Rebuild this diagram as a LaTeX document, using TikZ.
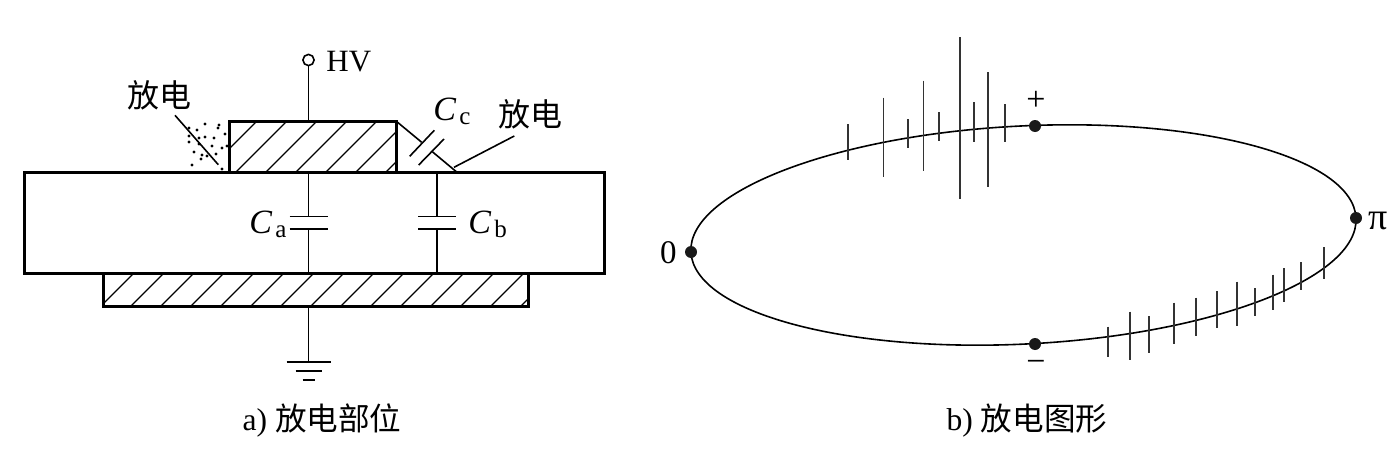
\documentclass[tikz,border=0pt]{standalone}
\usepackage{fontspec}
\setmainfont{Liberation Serif}
\newfontfamily\cjk{Noto Sans CJK SC}
\newcommand{\capsub}[2]{{\fontsize{17}{17}\selectfont\itshape #1}\,\raisebox{-2pt}{\fontsize{12.5}{13}\selectfont #2}}
\tikzset{
  wire/.style={line width=.8pt},
  slab/.style={line width=1.5pt},
  hatch/.style={line width=.6pt},
  pulse/.style={line width=.8pt,black!80},
  lbl/.style={inner sep=0pt,font=\fontsize{15.5}{16}\selectfont},
  hanzi/.style={inner sep=0pt,font=\cjk\fontsize{16}{16}\selectfont},
  dot/.style={circle,fill=black!90,inner sep=0pt,minimum size=6pt},
}
\begin{document}
\begin{tikzpicture}[x=.5pt,y=-.5pt]
  \useasboundingbox (0,0) rectangle (1398,455);
  % a) slab and electrodes
  \coordinate (slabNW) at (24,172);
  \coordinate (slabSE) at (604,273);
  \coordinate (topNW) at (229,121);
  \coordinate (topSE) at (396,172);
  \coordinate (lowNW) at (103,273);
  \coordinate (lowSE) at (528,306);
  \begin{scope}
    \clip (topNW) rectangle (topSE);
    \foreach \x in {206,236,...,386}
      \draw[hatch] (\x,172) -- ++(51,-51);
  \end{scope}
  \begin{scope}
    \clip (lowNW) rectangle (lowSE);
    \foreach \x in {101,131,...,521}
      \draw[hatch] (\x,306) -- ++(33,-33);
  \end{scope}
  \draw[slab] (slabNW) rectangle (slabSE);
  \draw[slab] (topNW) rectangle (topSE);
  \draw[slab] (lowNW) rectangle (lowSE);
  % stems and capacitors
  \node[circle,draw,wire,inner sep=0pt,minimum size=5.6pt] (hvend) at (308.5,60) {};
  \node[lbl,anchor=base west] (hvtext) at (326,71) {HV};
  \draw[wire] (hvend) -- (hvend |- topNW);
  \coordinate (caup) at (308.5,216.5);
  \coordinate (calo) at (308.5,229);
  \coordinate (cbup) at (437,216.5);
  \coordinate (cblo) at (437,229);
  \draw[wire] (hvend |- topSE) -- (caup);
  \draw[wire] (calo) -- (hvend |- slabSE);
  \draw[wire] (cbup |- topSE) -- (cbup);
  \draw[wire] (cblo) -- (cblo |- slabSE);
  \draw[wire] ([xshift=-9.5pt]caup) -- ([xshift=9.5pt]caup);
  \draw[wire] ([xshift=-9.5pt]calo) -- ([xshift=9.5pt]calo);
  \draw[wire] ([xshift=-9.5pt]cbup) -- ([xshift=9.5pt]cbup);
  \draw[wire] ([xshift=-9.5pt]cblo) -- ([xshift=9.5pt]cblo);
  \node[anchor=base west,inner sep=0pt] (calabel) at (249,233) {\capsub{C}{a}};
  \node[anchor=base west,inner sep=0pt] (cblabel) at (468,233) {\capsub{C}{b}};
  % ground
  \coordinate (gnd) at (308.5,362);
  \draw[wire] (hvend |- lowSE) -- (gnd);
  \draw[wire] ([xshift=-11pt]gnd) -- ([xshift=11pt]gnd);
  \draw[wire] ([xshift=-6.5pt,yshift=-4.5pt]gnd) -- ([xshift=6.5pt,yshift=-4.5pt]gnd);
  \draw[wire] ([xshift=-3pt,yshift=-9pt]gnd) -- ([xshift=3pt,yshift=-9pt]gnd);
  % Cc branch
  \coordinate (ccin) at (396,121);
  \coordinate (ccina) at (421.7,142.3);
  \coordinate (ccout) at (432.3,151.7);
  \coordinate (ccouta) at (456.7,172);
  \coordinate (plateAa) at (434.3,130.3);
  \coordinate (plateAb) at (409.7,156.3);
  \coordinate (plateBa) at (444,139);
  \coordinate (plateBb) at (418.7,165);
  \draw[wire] (ccin) -- (ccina);
  \draw[wire] (ccout) -- (ccouta);
  \draw[wire] (plateAa) -- (plateAb);
  \draw[wire] (plateBa) -- (plateBb);
  \node[anchor=base west,inner sep=0pt] (cclabel) at (433,120) {\capsub{C}{c}};
  % discharge labels
  \node[hanzi] (fdleft) at (159,95) {放电};
  \node[hanzi] (fdright) at (530,114) {放电};
  \coordinate (fdlefta) at (175,115.3);
  \coordinate (fdleftb) at (218.3,164.7);
  \coordinate (fdrighta) at (514.3,136);
  \coordinate (fdrightb) at (454,167.3);
  \draw[wire] (fdlefta) -- (fdleftb);
  \draw[wire] (fdrighta) -- (fdrightb);
  \foreach \x/\y in {189/128,197/130,205/124,219/125,218/128,225/134,189/136,199/138,205/137,214/138,189/142,199/144,212/146,227/146,222/148,194/152,202/155,207/156,201/159,216/154,192/165,222/169}
    \fill (\x,\y) circle (1.7);
  \node[lbl,anchor=base,font=\fontsize{15.8}{16}\selectfont] (capa) at (322,430) {a) {\cjk 放电部位}};
  % b) ellipse
  \coordinate (ctr) at (1023.5,235);
  \draw[wire,rotate around={2.93:(ctr)}] (ctr) ellipse [x radius=333,y radius=109];
  \foreach \x/\ya/\yb in {847.7/124/160,883.3/97.7/177.3,908/119.3/148.3,923.3/80.7/170.7,
      938.7/112.3/141,959.7/37.3/198.7,974/102/142,987.7/72.3/187.3,1004.7/104/142,
      1107.7/326.7/357,1130/311.7/360,1148.7/316.3/353,1173.7/302.7/344.3,1195.7/297.7/336,
      1217/291/328,1236.7/281.7/325.7,1254.7/288.3/315.7,1273/274.7/309.7,1283.7/268.3/301.7,
      1301/262.3/290.3,1324/247/279.3}
    \draw[pulse] (\x,\ya) -- (\x,\yb);
  \node[dot] (zero) at (691,252) {};
  \node[dot] (peak) at (1035,126) {};
  \node[dot] (halfpi) at (1356,218) {};
  \node[dot] (trough) at (1035,344) {};
  \node[lbl,anchor=east,font=\fontsize{16.5}{17}\selectfont] (zerotext) at (677,253) {0};
  \node[lbl,anchor=west,font=\fontsize{19}{19}\selectfont] (pitext) at (1368,221) {π};
  \node[lbl,font=\fontsize{17}{17}\selectfont] (plustext) at (1036,101) {+};
  \node[lbl,font=\fontsize{17}{17}\selectfont] (minustext) at (1036,366) {−};
  \node[lbl,anchor=base,font=\fontsize{15.8}{16}\selectfont] (capb) at (1027,430) {b) {\cjk 放电图形}};
\end{tikzpicture}
\end{document}
